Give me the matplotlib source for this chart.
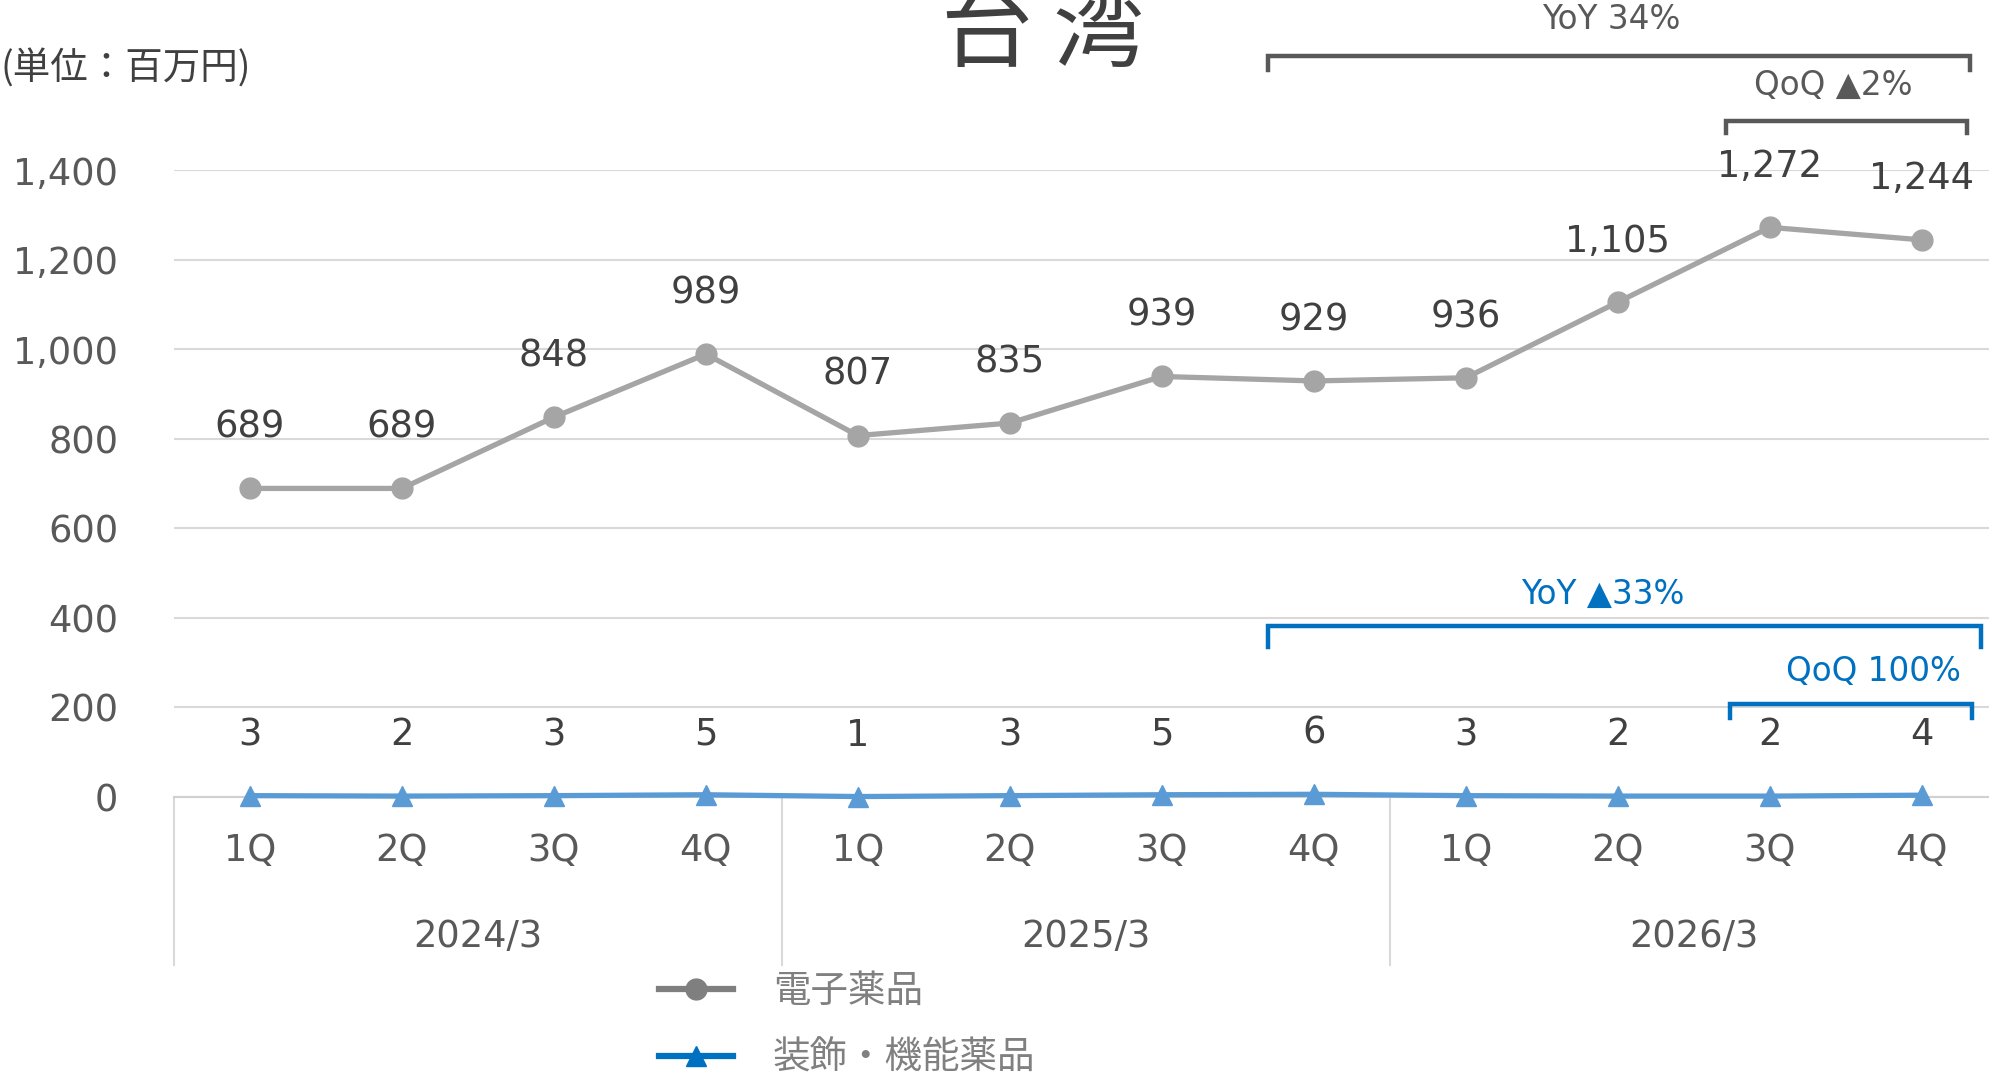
import numpy as np
import matplotlib
matplotlib.use("Agg")
import matplotlib.pyplot as plt
import matplotlib.transforms as mtransforms
from matplotlib.lines import Line2D

plt.rcParams['font.family'] = ['DejaVu Sans', 'Noto Sans CJK JP']

# データ
quarters = ["1Q", "2Q", "3Q", "4Q"] * 3
years = ["2024/3", "2025/3", "2026/3"]
denshi = [689, 689, 848, 989, 807, 835, 939, 929, 936, 1105, 1272, 1244]
soshoku = [3, 2, 3, 5, 1, 3, 5, 6, 3, 2, 2, 4]
series_names = ["電子薬品", "装飾・機能薬品"]

x = np.arange(len(quarters))

fig = plt.figure(figsize=(19.9, 10.76), dpi=100)
ax = fig.add_axes([0.0874, 0.2593, 0.9165, 0.5827])

ax.plot(x, denshi, color="#a5a5a5", lw=3.8, marker="o", ms=15, zorder=3,
        clip_on=False)
ax.plot(x, soshoku, color="#5b9bd5", lw=3.8, marker="^", ms=15, zorder=3,
        clip_on=False)

# データラベル
for xi, v in zip(x, denshi):
    ax.annotate(f"{v:,}", (xi, v), xytext=(0, 44), textcoords="offset points",
                ha="center", va="center", fontsize=26.5, color="#404040")
for xi, v in zip(x, soshoku):
    ax.annotate(f"{v:,}", (xi, v), xytext=(0, 44), textcoords="offset points",
                ha="center", va="center", fontsize=26.5, color="#404040")

ax.set_xlim(-0.5, 11.5)
ax.set_ylim(0, 1400)
ax.set_yticks(range(0, 1401, 200))
ax.set_yticklabels([f"{v:,}" for v in range(0, 1401, 200)])
ax.yaxis.grid(True, color="#d9d9d9", lw=1.5)
ax.set_axisbelow(True)
for s in ["top", "right", "left"]:
    ax.spines[s].set_visible(False)
ax.spines["bottom"].set_color("#d0d0d0")
ax.spines["bottom"].set_linewidth(1.5)
ax.tick_params(axis="y", length=0, pad=40, labelsize=26.5, labelcolor="#595959")
ax.set_xticks(x)
ax.set_xticklabels(quarters)
ax.tick_params(axis="x", length=0, pad=25, labelsize=26.5, labelcolor="#595959")

# 年度ラベルと区切り線
trans = mtransforms.blended_transform_factory(ax.transData, ax.transAxes)
for i, yr in enumerate(years):
    ax.text(i * 4 + 1.5, -0.223, yr, transform=trans, ha="center", va="center",
            fontsize=26.5, color="#595959")
for xb in [-0.5, 3.5, 7.5]:
    ax.plot([xb, xb], [0, -0.268], transform=trans, color="#d9d9d9", lw=1.5,
            clip_on=False)

# ブラケット
def bracket(x0, x1, y, y_tick, color, label, lx, ly):
    ax.plot([x0, x0, x1, x1], [y_tick, y, y, y_tick], color=color, lw=3.2,
            clip_on=False, solid_joinstyle="miter")
    ax.text(lx, ly, label, ha="center", va="center", fontsize=23.5, color=color)

bracket(6.70, 11.32, 1655, 1623, "#595959", "YoY 34%", 8.96, 1735)
bracket(9.71, 11.30, 1509, 1483, "#595959", "QoQ ▲2%", 10.42, 1588)
bracket(6.70, 11.39, 382, 335, "#0070c0", "YoY ▲33%", 8.90, 453)
bracket(9.74, 11.33, 208, 176, "#0070c0", "QoQ 100%", 10.68, 281)

# タイトル・単位
fig.text(0.524, 0.944, "台 湾", ha="center", va="baseline", fontsize=66,
         color="#404040", family=["Noto Sans CJK JP"])
fig.text(0.0, 0.936, "(単位：百万円)", ha="left", va="center", fontsize=27,
         color="#404040", family=["Noto Sans CJK JP", "DejaVu Sans"])

# 凡例
handles = [
    Line2D([], [], color="#7f7f7f", lw=4.5, marker="o", ms=15),
    Line2D([], [], color="#0070c0", lw=4.5, marker="^", ms=15),
]
leg = fig.legend(handles, series_names, loc="upper left",
                 bbox_to_anchor=(0.331, 0.097), frameon=False,
                 handlelength=1.97, handletextpad=1.07, labelspacing=0.75,
                 borderpad=0, borderaxespad=0,
                 prop={"family": ["Noto Sans CJK JP"], "size": 27})
for t in leg.get_texts():
    t.set_color("#808080")

fig.savefig("out.png", dpi=100)
